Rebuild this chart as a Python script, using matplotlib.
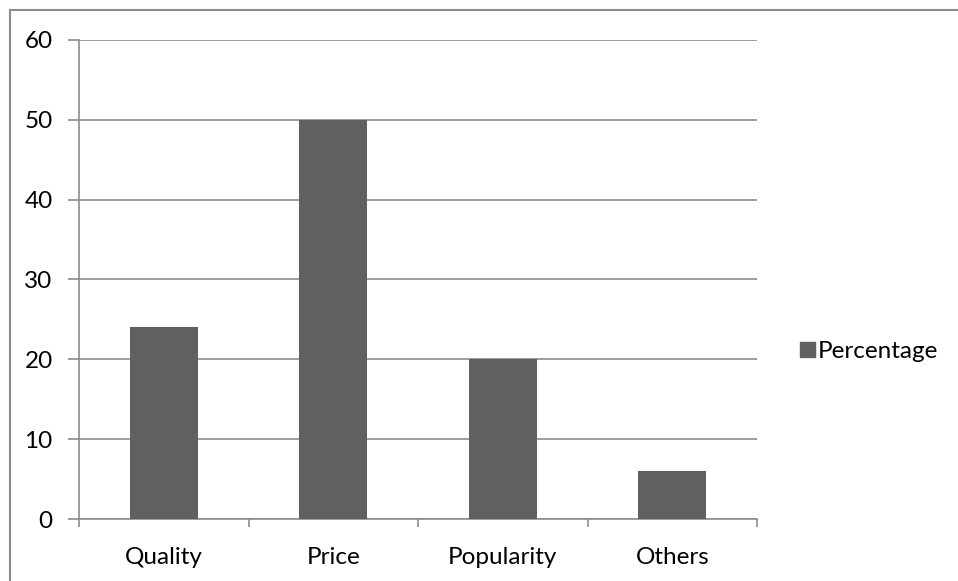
import matplotlib
matplotlib.use("Agg")
import matplotlib.pyplot as plt
from matplotlib.patches import Rectangle, Patch
import numpy as np

# data
categories = ["Quality", "Price", "Popularity", "Others"]
percentage = [24, 50, 20, 6]
y_ticks = [0, 10, 20, 30, 40, 50, 60]

bar_color = "#606060"
line_color = "#8c8c8c"
fs = 17.5

plt.rcParams['font.family'] = ['Lato', 'DejaVu Sans']

fig = plt.figure(figsize=(9.58, 5.81), dpi=100)
ax = fig.add_axes([0.0825, 0.1067, 0.7077, 0.8245])

x = np.arange(len(categories))
ax.bar(x, percentage, width=0.4, color=bar_color, zorder=3, label="Percentage")

ax.set_xlim(-0.5, len(categories) - 0.5)
ax.set_ylim(0, 60)
ax.set_yticks(y_ticks)
ax.set_yticklabels([str(v) for v in y_ticks], fontsize=fs)
ax.yaxis.grid(True, color=line_color, linewidth=1.2, zorder=0)

ax.set_xticks(x)
ax.set_xticklabels(categories, fontsize=fs)
ax.set_xticks(np.arange(-0.5, len(categories)), minor=True)
ax.tick_params(axis='x', which='major', length=0, pad=20)
ax.tick_params(axis='x', which='minor', length=6, width=1.2, color=line_color)
ax.tick_params(axis='y', length=8, width=1.2, color=line_color, pad=11)

for side in ['top', 'right']:
    ax.spines[side].set_visible(False)
for side in ['left', 'bottom']:
    ax.spines[side].set_color(line_color)
    ax.spines[side].set_linewidth(1.2)

ax.legend(handles=[Patch(color=bar_color, label="Percentage")],
          loc='center left', bbox_to_anchor=(1.049, 0.349), frameon=False,
          fontsize=fs, handlelength=0.6, handleheight=0.6, handletextpad=0.15,
          borderaxespad=0)

# outer chart border (runs off the right and bottom edges)
fig.patches.append(Rectangle((10 / 958, -0.05), 1.1, 1 - 10 / 581 + 0.05,
                             transform=fig.transFigure, fill=False,
                             edgecolor=line_color, linewidth=1.5))

fig.savefig("out.png", dpi=100)
